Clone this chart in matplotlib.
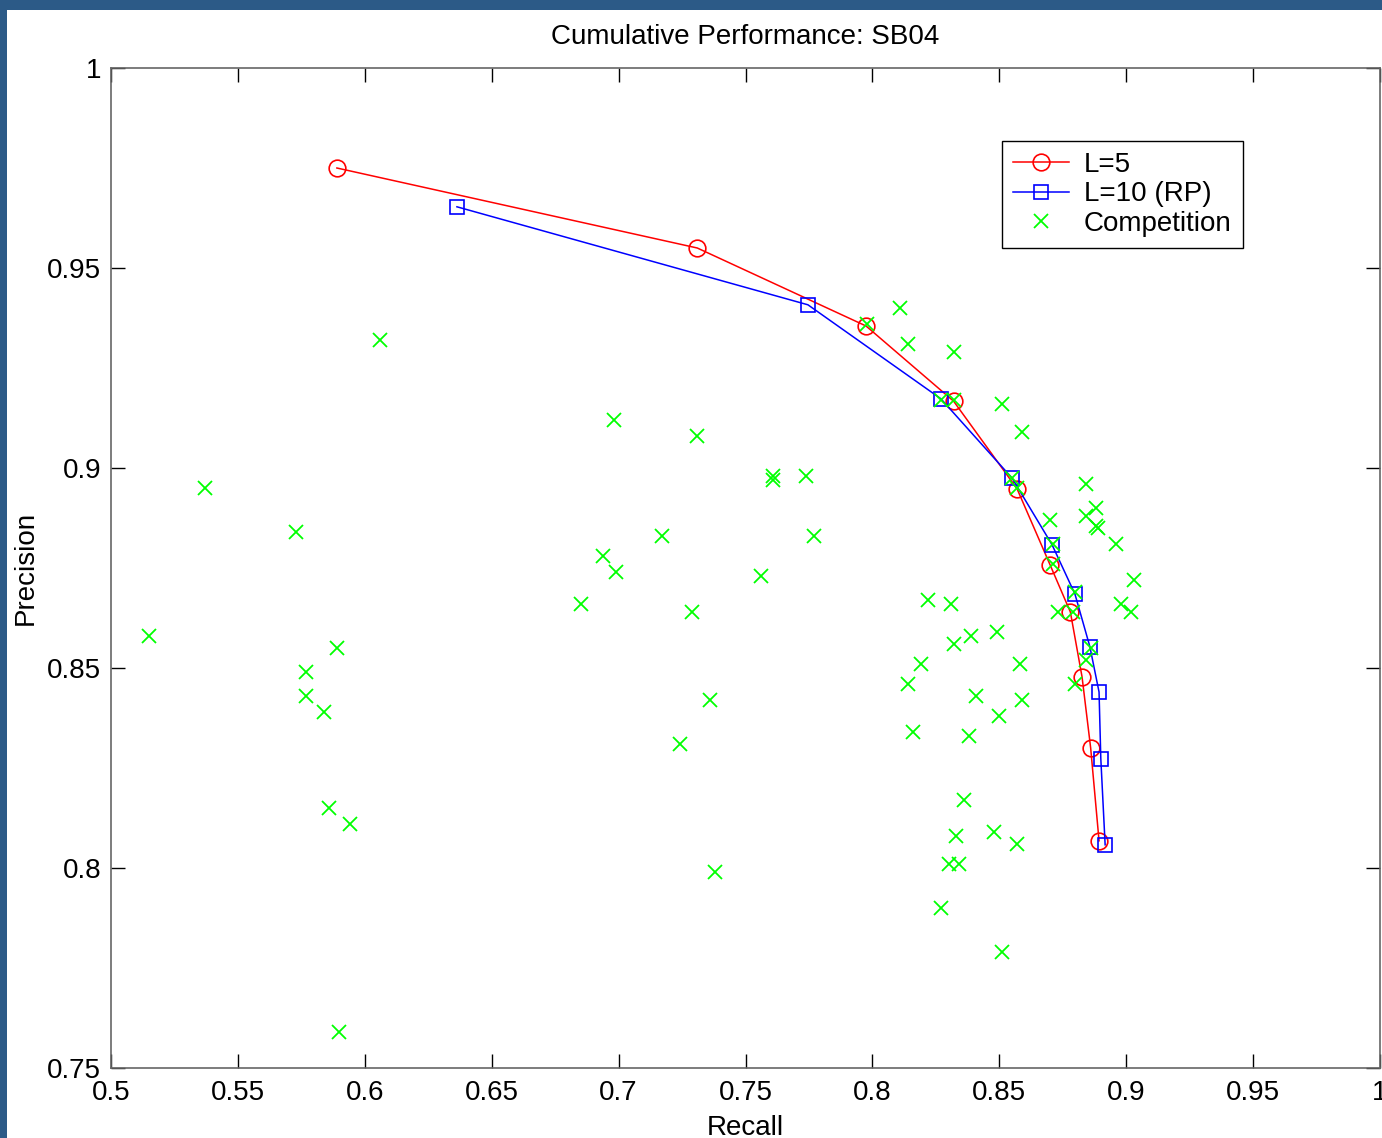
import matplotlib
matplotlib.use("Agg")
import matplotlib.pyplot as plt
from matplotlib.patches import Rectangle

plt.rcParams["font.family"] = ["Liberation Sans", "DejaVu Sans"]

# L=5 curve
l5_recall = [0.589, 0.731, 0.7975, 0.832, 0.857, 0.870, 0.878, 0.8826, 0.886, 0.8893]
l5_precision = [0.975, 0.955, 0.9355, 0.9167, 0.8948, 0.8758, 0.864, 0.8478, 0.830, 0.8068]

# L=10 (RP) curve
l10_recall = [0.6363, 0.7746, 0.827, 0.855, 0.8708, 0.8798, 0.8857, 0.8893, 0.890, 0.8917]
l10_precision = [0.9653, 0.9408, 0.9173, 0.8975, 0.8808, 0.8685, 0.8553, 0.844, 0.8273, 0.8058]

# competition entries
comp_recall = [
    0.515, 0.537, 0.573, 0.577, 0.577, 0.584, 0.589, 0.586, 0.594, 0.590,
    0.606, 0.685, 0.694, 0.698, 0.699, 0.717, 0.724, 0.729, 0.731, 0.736,
    0.738, 0.756, 0.761, 0.761, 0.774, 0.777, 0.798, 0.811, 0.814, 0.832,
    0.827, 0.832, 0.851, 0.859, 0.855, 0.857, 0.884, 0.888, 0.884, 0.889,
    0.888, 0.870, 0.896, 0.871, 0.871, 0.903, 0.880, 0.873, 0.879, 0.898,
    0.902, 0.886, 0.884, 0.880, 0.822, 0.831, 0.849, 0.839, 0.832, 0.819,
    0.858, 0.814, 0.841, 0.859, 0.850, 0.816, 0.838, 0.836, 0.833, 0.848,
    0.857, 0.830, 0.834, 0.827, 0.851,
]
comp_precision = [
    0.858, 0.895, 0.884, 0.849, 0.843, 0.839, 0.855, 0.815, 0.811, 0.759,
    0.932, 0.866, 0.878, 0.912, 0.874, 0.883, 0.831, 0.864, 0.908, 0.842,
    0.799, 0.873, 0.898, 0.897, 0.898, 0.883, 0.936, 0.940, 0.931, 0.929,
    0.917, 0.917, 0.916, 0.909, 0.8975, 0.895, 0.896, 0.890, 0.888, 0.885,
    0.8855, 0.887, 0.881, 0.881, 0.876, 0.872, 0.869, 0.864, 0.864, 0.866,
    0.864, 0.855, 0.852, 0.846, 0.867, 0.866, 0.859, 0.858, 0.856, 0.851,
    0.851, 0.846, 0.843, 0.842, 0.838, 0.834, 0.833, 0.817, 0.808, 0.809,
    0.806, 0.801, 0.801, 0.790, 0.779,
]

x_ticks = [0.5, 0.55, 0.6, 0.65, 0.7, 0.75, 0.8, 0.85, 0.9, 0.95, 1.0]
x_tick_labels = ["0.5", "0.55", "0.6", "0.65", "0.7", "0.75", "0.8", "0.85", "0.9", "0.95", "1"]
y_ticks = [0.75, 0.8, 0.85, 0.9, 0.95, 1.0]
y_tick_labels = ["0.75", "0.8", "0.85", "0.9", "0.95", "1"]

W, H = 1382, 1138
fig = plt.figure(figsize=(W / 100, H / 100), dpi=100)
fig.patch.set_facecolor("white")

# dark frame from the screenshot
frame = "#2c5a87"
fig.patches.append(Rectangle((0, 1 - 10 / H), 1, 10 / H, transform=fig.transFigure,
                             facecolor=frame, edgecolor="none"))
fig.patches.append(Rectangle((0, 0), 7 / W, 1, transform=fig.transFigure,
                             facecolor=frame, edgecolor="none"))

ax = fig.add_axes([111 / W, (H - 1068) / H, 1269 / W, 1000 / H])

ax.plot(l5_recall, l5_precision, color="red", lw=1.1, marker="o", ms=12,
        mfc="none", mec="red", mew=1.2, label="L=5")
ax.plot(l10_recall, l10_precision, color="blue", lw=1.1, marker="s", ms=10,
        mfc="none", mec="blue", mew=1.2, label="L=10 (RP)")
ax.plot(comp_recall, comp_precision, ls="none", color="#00ff00", marker="x",
        ms=10, mew=1.3, label="Competition")

ax.set_xlim(0.5, 1.0)
ax.set_ylim(0.75, 1.0)
ax.set_xticks(x_ticks)
ax.set_xticklabels(x_tick_labels)
ax.set_yticks(y_ticks)
ax.set_yticklabels(y_tick_labels)
ax.tick_params(direction="in", length=10, width=1, top=True, right=True,
               labelsize=20, color="black")
ax.tick_params(axis="x", pad=9)
ax.tick_params(axis="y", pad=7)
for spine in ax.spines.values():
    spine.set_color("#666666")
    spine.set_linewidth(1.2)

ax.set_title("Cumulative Performance: SB04", fontsize=20, pad=17)
ax.set_xlabel("Recall", fontsize=20, labelpad=6)
ax.set_ylabel("Precision", fontsize=20, labelpad=6)

leg = ax.legend(loc="upper right", bbox_to_anchor=(0.892, 0.927), borderaxespad=0,
                fontsize=20, fancybox=False, framealpha=1, edgecolor="black",
                handlelength=2.0, handletextpad=0.55, borderpad=0.4, labelspacing=0.12)
leg.get_frame().set_linewidth(1.0)

fig.savefig("out.png", dpi=100)
